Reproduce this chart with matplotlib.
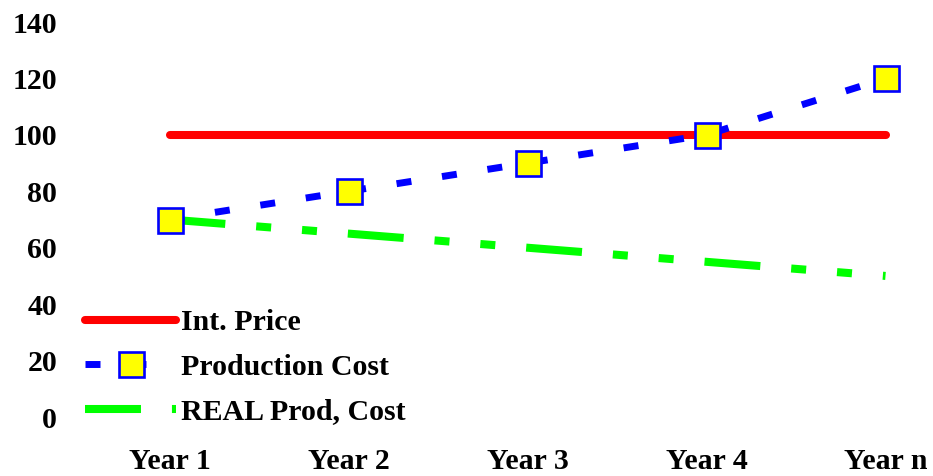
import matplotlib.pyplot as plt

# Dados
anos = ['Year 1', 'Year 2', 'Year 3', 'Year 4', 'Year n']
int_price = [100, 100, 100, 100, 100]
production_cost = [70, 80, 90, 100, 120]
real_prod_cost = [70, 65, 60, 55, 50]

plt.rcParams['font.family'] = ['Liberation Serif', 'DejaVu Serif']
plt.rcParams['font.weight'] = 'bold'
plt.rcParams['font.size'] = 21.5
plt.rcParams['lines.scale_dashes'] = False

fig = plt.figure(figsize=(9.33, 4.76), dpi=100)
ax = fig.add_axes([80 / 933, 59 / 476, 853 / 933, 395 / 476])

x = list(range(len(anos)))

l1, = ax.plot(x, int_price, color='#FF0000', lw=5.8, solid_capstyle='round',
              label='Int. Price', zorder=2)
l3, = ax.plot(x, real_prod_cost, color='#00FF00', lw=5.8,
              dashes=(40.3, 22.3, 10.8, 22.3, 10.8, 22.3), dash_capstyle='butt',
              label='REAL Prod, Cost', zorder=2)
l2, = ax.plot(x, production_cost, color='#0000FF', lw=5.0,
              dashes=(10.8, 22.3), dash_capstyle='butt',
              marker='s', markersize=18, markerfacecolor='#FFFF00',
              markeredgecolor='#0000FF', markeredgewidth=1.9,
              label='Production Cost', zorder=3, clip_on=False)

ax.set_xlim(-0.5, -0.5 + 853 / 179)
ax.set_ylim(0, 140)
ax.set_xticks(x)
ax.set_xticklabels(anos)
ax.set_yticks(range(0, 141, 20))
ax.tick_params(axis='both', length=0)
ax.tick_params(axis='y', pad=16.5)
ax.tick_params(axis='x', pad=22)
for s in ax.spines.values():
    s.set_visible(False)

ax.legend(handles=[l1, l2, l3], loc='lower left',
          bbox_to_anchor=(85 / 933, 51 / 476), bbox_transform=fig.transFigure,
          frameon=False, handlelength=3.05, handletextpad=0.17, borderpad=0,
          borderaxespad=0, labelspacing=0.58, numpoints=1)

fig.savefig('out.png', dpi=100)
